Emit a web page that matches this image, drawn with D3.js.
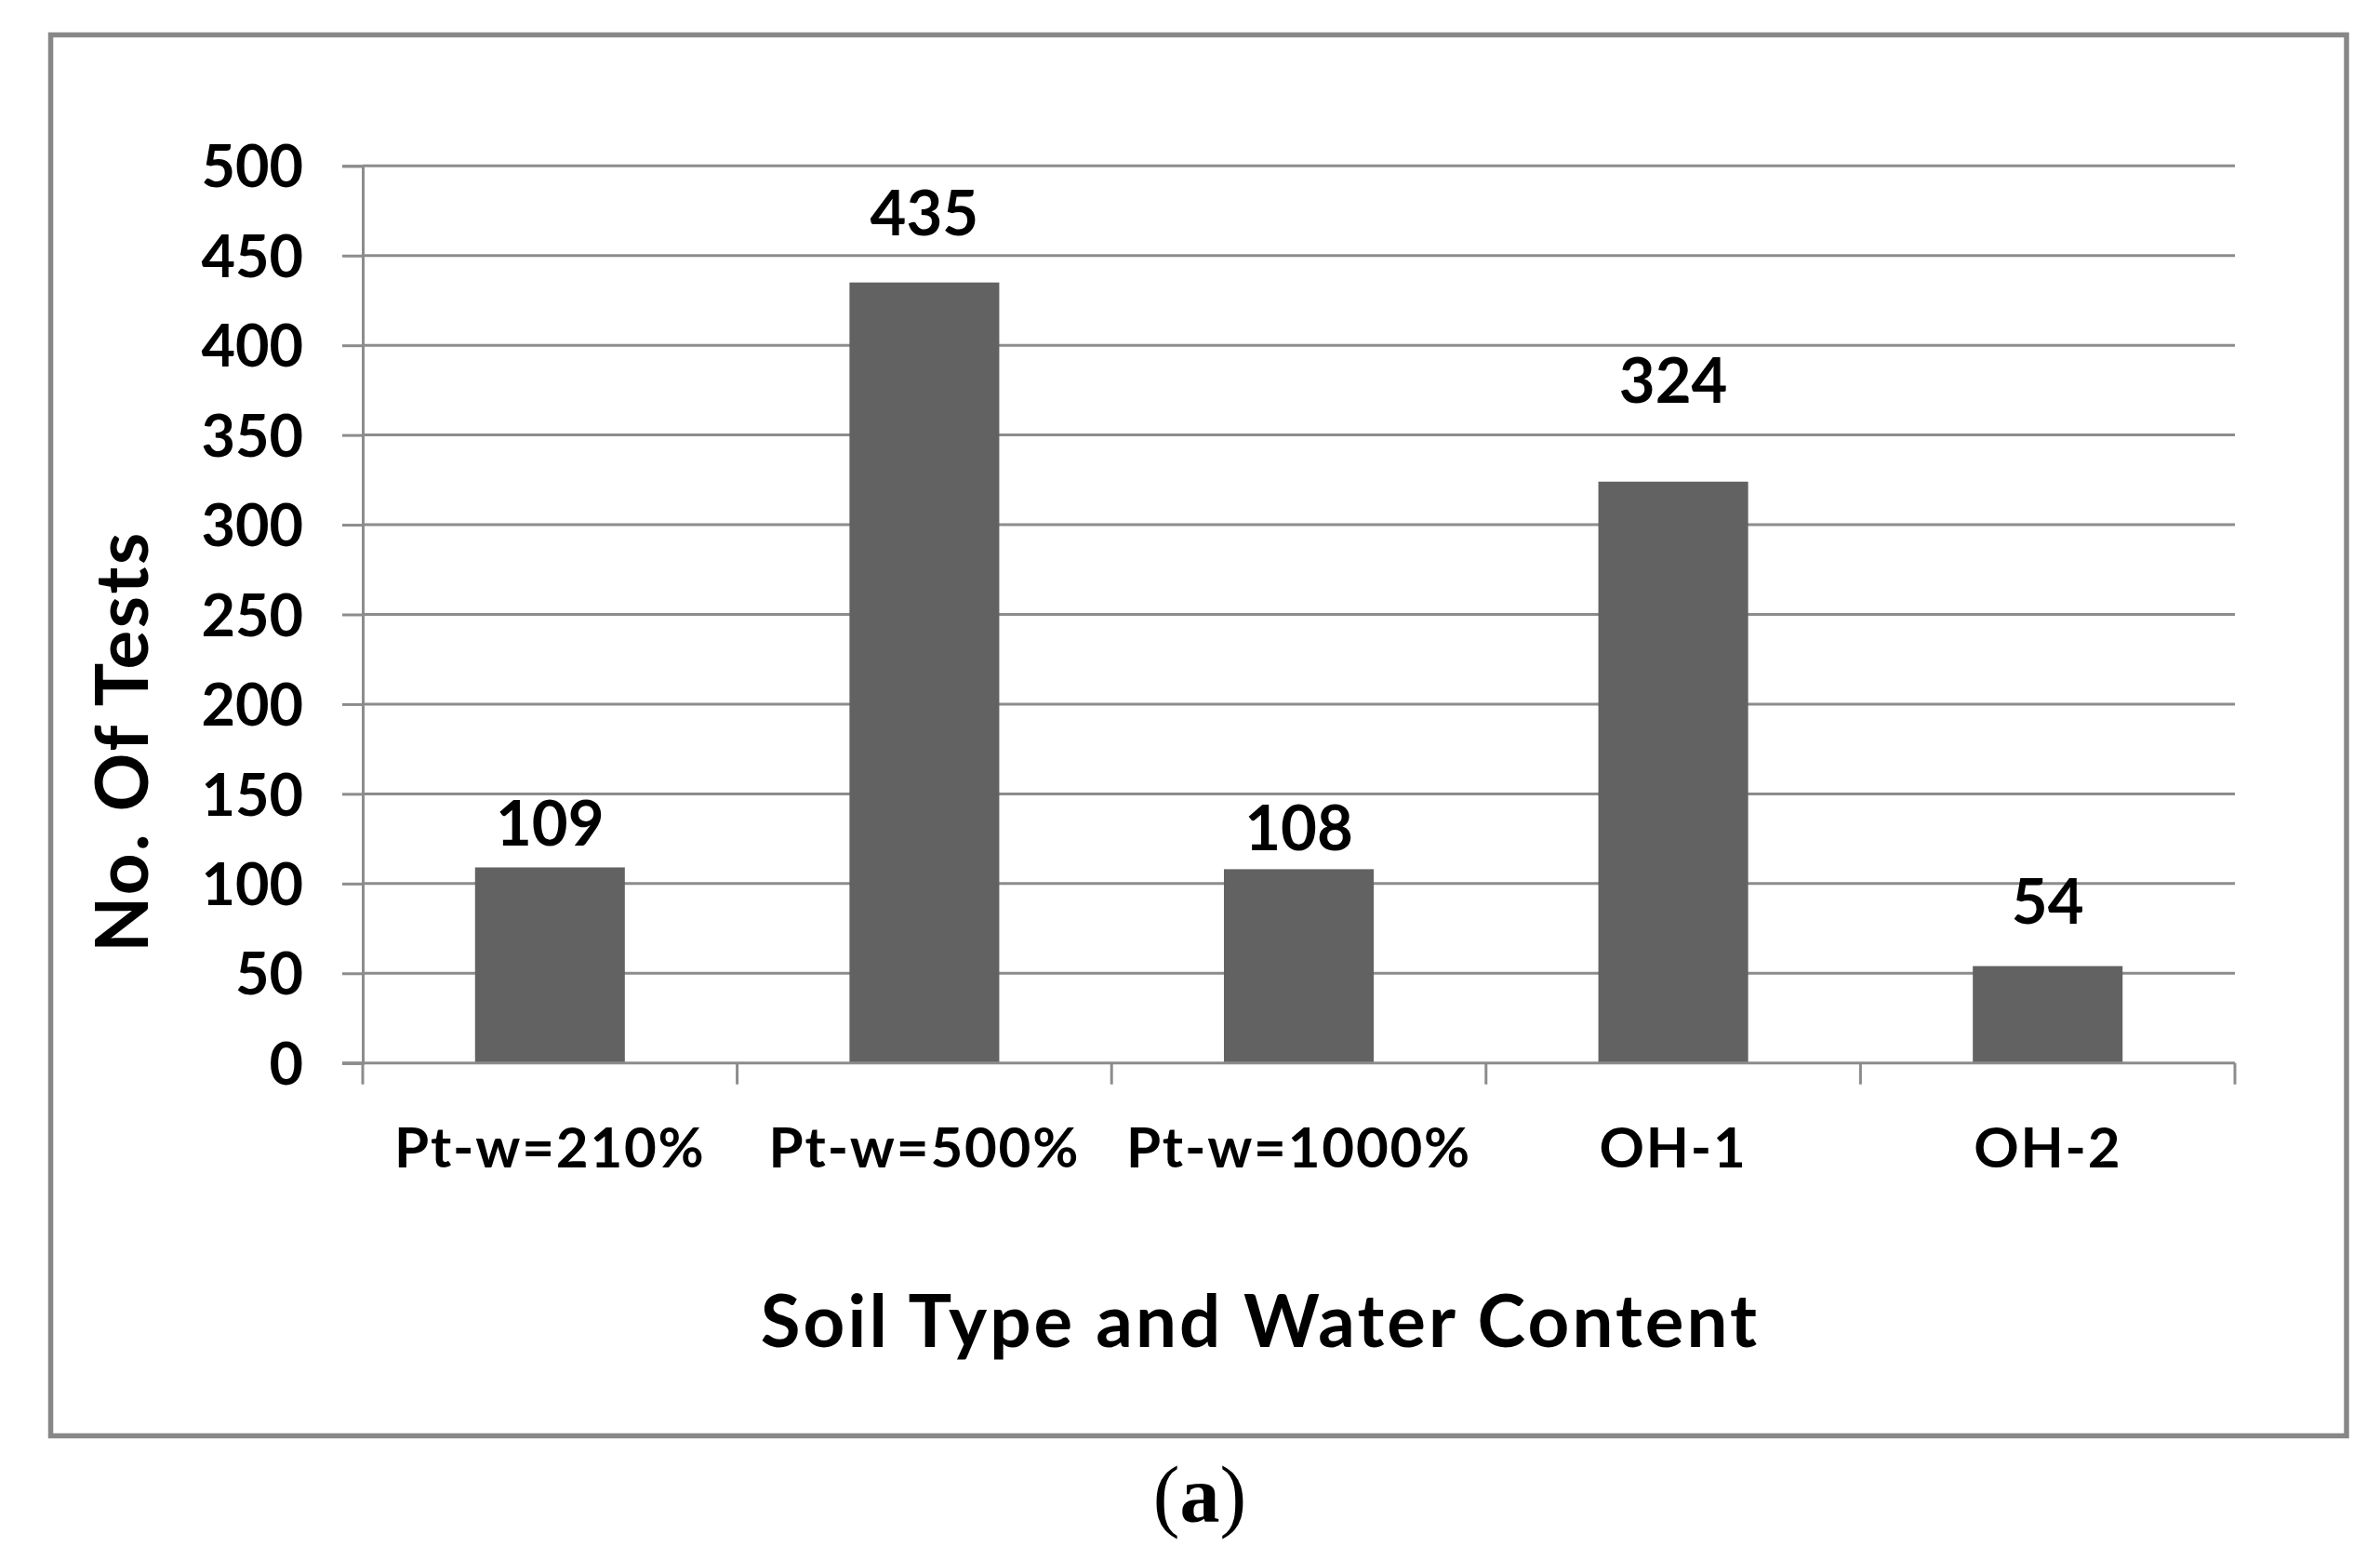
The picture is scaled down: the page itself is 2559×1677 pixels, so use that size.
<!DOCTYPE html>
<html>
<head>
<meta charset="utf-8">
<script src="https://cdn.jsdelivr.net/npm/d3@7"></script>
<style>
  html, body { margin: 0; padding: 0; background: #fff; }
  svg { display: block; }
  text { font-family: Lato, "Open Sans", sans-serif; font-weight: bold; fill: #000; }
</style>
</head>
<body>
<svg id="chart" width="2559" height="1677"></svg>
<script>
// ---- data ----
const categories = ["Pt-w=210%", "Pt-w=500%", "Pt-w=1000%", "OH-1", "OH-2"];
const values = [109, 435, 108, 324, 54];
const yTicks = [0, 50, 100, 150, 200, 250, 300, 350, 400, 450, 500];
const xTitle = "Soil Type and Water Content";
const yTitle = "No. Of Tests";
const caption = "a";
// label lift above bar top, in pixels (labels were placed by hand in the source)
const labelLift = [23, 51, 20, 85, 46];

// ---- layout ----
const W = 2559, H = 1677;
const plot = { left: 390, right: 2403, top: 178.3, bottom: 1142.7 };
const svg = d3.select("#chart");

svg.append("rect").attr("width", W).attr("height", H).attr("fill", "#fff");

// outer frame
svg.append("rect")
  .attr("x", 54.5).attr("y", 37.5)
  .attr("width", 2523 - 54.5).attr("height", 1543.5 - 37.5)
  .attr("fill", "none").attr("stroke", "#878787").attr("stroke-width", 5.5);

const x = d3.scaleBand().domain(categories)
  .range([plot.left, plot.right]).paddingInner(0.6).paddingOuter(0.3);
const y = d3.scaleLinear().domain([0, 500]).range([plot.bottom, plot.top]);

const gridColor = "#8c8c8c";

// y axis ticks
const yAxis = d3.axisLeft(y).tickValues(yTicks).tickSize(22).tickPadding(42).tickFormat(d3.format("d"));
const gy = svg.append("g").attr("transform", `translate(${plot.left},0)`).call(yAxis);
gy.select(".domain").attr("stroke", gridColor).attr("stroke-width", 3);
gy.selectAll(".tick line").attr("stroke", gridColor).attr("stroke-width", 3);
gy.selectAll(".tick text").attr("font-size", 63).attr("dy", "0.36em")
  .style("font-family", "Lato, sans-serif").style("font-weight", "bold").attr("fill", "#000");

// gridlines
svg.append("g").selectAll("line").data(yTicks.filter(d => d > 0)).join("line")
  .attr("x1", plot.left).attr("x2", plot.right)
  .attr("y1", d => y(d)).attr("y2", d => y(d))
  .attr("stroke", gridColor).attr("stroke-width", 3);

// bars
svg.append("g").selectAll("rect").data(values).join("rect")
  .attr("x", (d, i) => x(categories[i]))
  .attr("width", x.bandwidth())
  .attr("y", d => y(d))
  .attr("height", d => y(0) - y(d))
  .attr("fill", "#626262");

// x axis line and ticks at category boundaries
svg.append("line")
  .attr("x1", plot.left - 22).attr("x2", plot.right)
  .attr("y1", y(0)).attr("y2", y(0))
  .attr("stroke", gridColor).attr("stroke-width", 3);
const boundaries = categories.map(c => x(c) - (x.step() - x.bandwidth()) / 2)
  .concat([plot.right]);
svg.append("g").selectAll("line").data(boundaries).join("line")
  .attr("x1", d => d).attr("x2", d => d)
  .attr("y1", y(0)).attr("y2", y(0) + 23)
  .attr("stroke", gridColor).attr("stroke-width", 3);

// x category labels
svg.append("g").selectAll("text").data(categories).join("text")
  .attr("x", d => x(d) + x.bandwidth() / 2)
  .attr("y", y(0) + 112)
  .attr("text-anchor", "middle")
  .attr("font-size", 60)
  .attr("letter-spacing", 1.8)
  .text(d => d);

// data labels
svg.append("g").selectAll("text").data(values).join("text")
  .attr("x", (d, i) => x(categories[i]) + x.bandwidth() / 2)
  .attr("y", (d, i) => y(d) - labelLift[i])
  .attr("text-anchor", "middle")
  .attr("font-size", 67)
  .text(d => d);

// axis titles
svg.append("text")
  .attr("x", 1355).attr("y", 1448)
  .attr("text-anchor", "middle")
  .attr("font-size", 78)
  .attr("letter-spacing", 3.1)
  .text(xTitle);

svg.append("text")
  .attr("transform", `translate(159,797) rotate(-90)`)
  .attr("text-anchor", "middle")
  .attr("font-size", 78)
  .attr("letter-spacing", 2.5)
  .text(yTitle);

// caption
const cap = svg.append("text")
  .attr("x", 1290).attr("y", 1636)
  .attr("text-anchor", "middle")
  .style("font-family", "'Liberation Serif', 'DejaVu Serif', serif")
  .style("font-weight", "normal")
  .attr("font-size", 86);
cap.append("tspan").text("(");
cap.append("tspan").style("font-weight", "bold").text(caption);
cap.append("tspan").text(")");
</script>
</body>
</html>
